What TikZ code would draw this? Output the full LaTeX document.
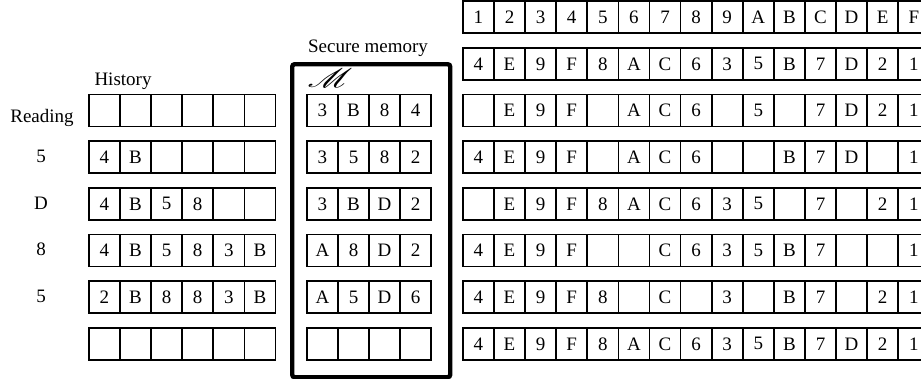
\documentclass[tikz,border=0pt]{standalone}
\usepackage{fontspec}
\setmainfont{Liberation Serif}
\usepackage{mathrsfs}
\newcommand{\cellfont}{\fontsize{19}{22}\selectfont}
\newcommand{\cellrow}[4]{%
  \foreach \v [count=\c from 0] in {#4} {
    \node[cell] (#1-\c) at ({#2+\c*31.1},#3) {\v};
  }%
}
\begin{document}
\begin{tikzpicture}[x=1pt,y=-1pt,
  cell/.style={draw, line width=1.7pt, minimum width=31.1pt, minimum height=32pt,
    inner sep=0pt, anchor=north west, font=\cellfont},
  lbl/.style={font=\cellfont, inner sep=0pt},
  securebox/.style={draw, line width=4.4pt, rounded corners=2.5pt, anchor=north west,
    minimum width=158pt, minimum height=313pt, inner sep=0pt}]
\useasboundingbox (0,0) rectangle (921,378);

% right table
\cellrow{t0}{462}{0.4}{1,2,3,4,5,6,7,8,9,A,B,C,D,E,F}
\cellrow{t1}{462}{47}{4,E,9,F,8,A,C,6,3,5,B,7,D,2,1}
\cellrow{t2}{462}{93.7}{{},E,9,F,{},A,C,6,{},5,{},7,D,2,1}
\cellrow{t3}{462}{140.3}{4,E,9,F,{},A,C,6,{},{},B,7,D,{},1}
\cellrow{t4}{462}{187}{{},E,9,F,8,A,C,6,3,5,{},7,{},2,1}
\cellrow{t5}{462}{233.7}{4,E,9,F,{},{},C,6,3,5,B,7,{},{},1}
\cellrow{t6}{462}{280.3}{4,E,9,F,8,{},C,{},3,{},B,7,{},2,1}
\cellrow{t7}{462}{327}{4,E,9,F,8,A,C,6,3,5,B,7,D,2,1}

% history
\cellrow{h2}{88}{93.7}{{},{},{},{},{},{}}
\cellrow{h3}{88}{140.3}{4,B,{},{},{},{}}
\cellrow{h4}{88}{187}{4,B,5,8,{},{}}
\cellrow{h5}{88}{233.7}{4,B,5,8,3,B}
\cellrow{h6}{88}{280.3}{2,B,8,8,3,B}
\cellrow{h7}{88}{327}{{},{},{},{},{},{}}

% secure memory
\node[securebox] (secure) at (290,62) {};
\cellrow{m2}{306}{93.7}{3,B,8,4}
\cellrow{m3}{306}{140.3}{3,5,8,2}
\cellrow{m4}{306}{187}{3,B,D,2}
\cellrow{m5}{306}{233.7}{A,8,D,2}
\cellrow{m6}{306}{280.3}{A,5,D,6}
\cellrow{m7}{306}{327}{{},{},{},{}}

% labels
\node[lbl, anchor=base] (sectitle) at (368,52) {Secure memory};
\node[lbl, anchor=base] (mlabel) at (330,87) {\scalebox{2.1}[1.55]{$\mathscr{M}$}};
\node[lbl, anchor=base] (history) at (123,85) {History};
\node[lbl, anchor=base] (reading) at (42,122) {Reading};
\node[lbl] (l3) at (41,156.3) {5};
\node[lbl] (l4) at (41,203) {D};
\node[lbl] (l5) at (41,249.7) {8};
\node[lbl] (l6) at (41,296.3) {5};
\end{tikzpicture}
\end{document}
